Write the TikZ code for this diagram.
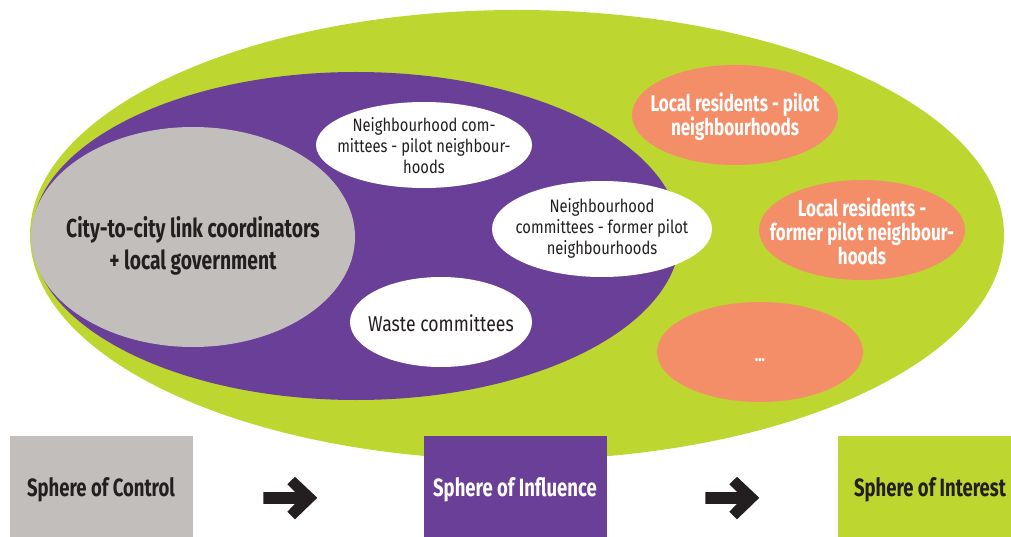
\documentclass[tikz,border=0pt]{standalone}
\usepackage{fontspec}
\setmainfont{Fira Sans}[FakeStretch=0.74]
\newfontfamily\regfont{Fira Sans}[FakeStretch=0.82]
\usetikzlibrary{shapes.geometric}
\definecolor{limeg}{HTML}{BDD730}
\definecolor{purp}{HTML}{6A3F97}
\definecolor{greyc}{HTML}{C2BEBB}
\definecolor{salmon}{HTML}{F48E69}
\definecolor{ink}{HTML}{231F20}
\tikzset{
  blob/.style={ellipse, draw=none, inner sep=0pt},
  txt/.style={inner sep=0pt, align=center},
  whitetxt/.style={txt, text=ink, font=\regfont\fontsize{18}{21}\selectfont},
  orangetxt/.style={txt, text=white, font=\bfseries\fontsize{23}{24}\selectfont},
  orangeblob/.style={blob, fill=salmon, minimum width=206pt, minimum height=100pt},
  legendbox/.style={rectangle, draw=none, inner sep=0pt, minimum height=101pt},
  legendtxt/.style={txt, font=\bfseries\fontsize{25}{30}\selectfont},
  bigarrow/.style={fill=ink, draw=none}
}
\begin{document}
\begin{tikzpicture}[x=1pt,y=-1pt]
\useasboundingbox (0,0) rectangle (1011,537);
% spheres
\node[blob, fill=limeg, minimum width=974pt, minimum height=450pt] (interest) at (517,235) {};
\node[blob, fill=purp, minimum width=648pt, minimum height=328pt] (influence) at (356,236) {};
\node[blob, fill=greyc, minimum width=324pt, minimum height=220pt] (control) at (193,237) {};
\node[txt, text=ink, font=\bfseries\fontsize{26}{32}\selectfont] (controltxt) at ([yshift=-9pt]control.center) {City-to-city link coordinators\\+ local government};
% white ellipses
\node[blob, fill=white, minimum width=216pt, minimum height=86pt] (nc1) at (424,145) {};
\node[whitetxt] (nc1txt) at ([yshift=-1pt]nc1.center) {Neighbourhood com-\\mittees - pilot neighbour-\\hoods};
\node[blob, fill=white, minimum width=220pt, minimum height=96pt] (nc2) at (602,229) {};
\node[whitetxt] (nc2txt) at ([yshift=1pt]nc2.center) {Neighbourhood\\committees - former pilot\\neighbourhoods};
\node[blob, fill=white, minimum width=182pt, minimum height=90pt] (waste) at (441,322) {};
\node[whitetxt, font=\regfont\fontsize{21.5}{24}\selectfont] (wastetxt) at ([yshift=-1pt]waste.center) {Waste committees};
% orange ellipses
\node[orangeblob] (lr1) at (735,115) {};
\node[orangetxt] (lr1txt) at ([yshift=-2pt]lr1.center) {Local residents - pilot\\neighbourhoods};
\node[orangeblob] (lr2) at (862,230) {};
\node[orangetxt] (lr2txt) at ([yshift=-1pt]lr2.center) {Local residents -\\former pilot neighbour-\\hoods};
\node[orangeblob] (lr3) at (760,352) {};
\node[orangetxt, font=\bfseries\fontsize{19}{24}\selectfont] (lr3txt) at ([yshift=-8pt]lr3.center) {...};
% legend boxes
\node[legendbox, fill=greyc, minimum width=183pt] (boxc) at (101.5,486.5) {};
\node[legendtxt, text=ink] (boxctxt) at (101,490) {Sphere of Control};
\node[legendbox, fill=purp, minimum width=183pt] (boxi) at (515.5,486.5) {};
\node[legendtxt, text=white] (boxitxt) at (515,490) {Sphere of Influence};
\node[legendbox, fill=limeg, minimum width=173pt] (boxt) at (924.5,486.5) {};
\node[legendtxt, text=ink] (boxttxt) at (930,490) {Sphere of Interest};
% arrows
\coordinate (a1) at (263.3,497.8);
\coordinate (a2) at (705.3,497.8);
\foreach \a in {a1,a2}{
  \fill[bigarrow] (\a) ++(0,-5.8) -- ++(31.7,0) -- ++(-7.7,-7.7) -- ++(7.7,-7.5) -- ++(22.3,21) -- ++(-22.3,21.5) -- ++(-7.7,-7.5) -- ++(7.7,-8) -- ++(-31.7,0) -- cycle;
}
\end{tikzpicture}
\end{document}
